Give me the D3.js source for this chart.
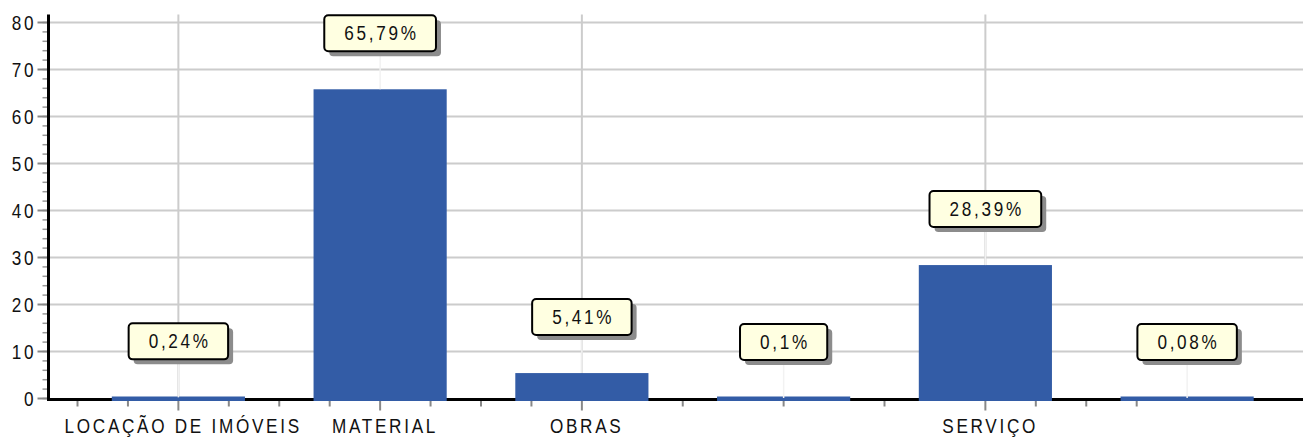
<!DOCTYPE html>
<html>
<head>
<meta charset="utf-8">
<script src="https://cdn.jsdelivr.net/npm/d3@7"></script>
<style>
  html, body { margin: 0; padding: 0; background: #ffffff; }
  svg { display: block; }
  text { font-family: "Liberation Sans", Arial, sans-serif; }
</style>
</head>
<body>
<svg id="chart" width="1303" height="438"></svg>
<script>
// ---- data ----
const categories = ["LOCAÇÃO DE IMÓVEIS", "MATERIAL", "OBRAS", "", "SERVIÇO", ""];
const values = [0.24, 65.79, 5.41, 0.1, 28.39, 0.08];
const valueLabels = ["0,24%", "65,79%", "5,41%", "0,1%", "28,39%", "0,08%"];
const yTicks = [0, 10, 20, 30, 40, 50, 60, 70, 80];
const yMinorTicks = d3.range(0, 81, 2);
const xQuarterTicks = [0, 1, 2, 3, 4, 5, 6, 7, 8, 9, 10, 12, 14, 16, 18, 19, 20, 21];
const verticalGridCats = [0, 2, 4];

// ---- layout ----
const W = 1303, H = 438;
const axisX = 48.5;
const svg = d3.select("#chart");

const x = d3.scaleBand()
  .domain(d3.range(categories.length))
  .range([77.5, 1288])
  .paddingInner(0.34)
  .paddingOuter(0.17);

const y = d3.scaleLinear().domain([0, 80]).range([398.5, 22.5]);
const step = x.step();
const center = i => x(i) + x.bandwidth() / 2;
const quarterX = q => x.range()[0] + q * step / 4;

// condensed text emulation
const fontSize = 19.5, sx = 0.88, lsScreen = 2.7;
const lsLocal = lsScreen / sx;

function addText(parent, str, px, py, anchor) {
  const t = parent.append("text")
    .attr("font-size", fontSize)
    .attr("letter-spacing", lsLocal)
    .attr("fill", "#111")
    .attr("dy", "0.36em")
    .text(str);
  const wLocal = t.node().getComputedTextLength() - lsLocal;
  const w = wLocal * sx;
  let left = px;
  if (anchor === "middle") left = px - w / 2;
  else if (anchor === "end") left = px - w;
  t.attr("transform", `translate(${left},${py}) scale(${sx},1)`);
  return w;
}

// horizontal gridlines
svg.append("g").selectAll("line").data(yTicks.filter(d => d > 0)).join("line")
  .attr("x1", axisX).attr("x2", W)
  .attr("y1", d => y(d)).attr("y2", d => y(d))
  .attr("stroke", "#cccccc").attr("stroke-width", 2);

// vertical gridlines
svg.append("g").selectAll("line").data(verticalGridCats).join("line")
  .attr("x1", d => center(d)).attr("x2", d => center(d))
  .attr("y1", y(80) - 8).attr("y2", y(0))
  .attr("stroke", "#cccccc").attr("stroke-width", 2);

// y minor ticks
svg.append("g").selectAll("line").data(yMinorTicks).join("line")
  .attr("x1", axisX - 6).attr("x2", axisX)
  .attr("y1", d => y(d)).attr("y2", d => y(d))
  .attr("stroke", "#999999").attr("stroke-width", 1.5);

// y major ticks
svg.append("g").selectAll("line").data(yTicks).join("line")
  .attr("x1", axisX - 11).attr("x2", axisX)
  .attr("y1", d => y(d)).attr("y2", d => y(d))
  .attr("stroke", "#888888").attr("stroke-width", 2);

// y labels
const yl = svg.append("g");
yTicks.forEach(d => addText(yl, String(d), 33.5, y(d), "end"));

// x ticks
svg.append("g").selectAll("line").data(xQuarterTicks).join("line")
  .attr("x1", d => quarterX(d)).attr("x2", d => quarterX(d))
  .attr("y1", y(0) + 2)
  .attr("y2", d => (d % 4 === 2 && categories[(d - 2) / 4]) ? y(0) + 12 : y(0) + 8)
  .attr("stroke", "#888888").attr("stroke-width", 2);

// axes lines
svg.append("line")
  .attr("x1", axisX).attr("x2", W).attr("y1", y(0) + 1).attr("y2", y(0) + 1)
  .attr("stroke", "#000").attr("stroke-width", 3);
svg.append("line")
  .attr("x1", axisX).attr("x2", axisX).attr("y1", y(80) - 8).attr("y2", y(0) + 2.5)
  .attr("stroke", "#000").attr("stroke-width", 3);

// bars
svg.append("g").selectAll("rect").data(values).join("rect")
  .attr("x", (d, i) => x(i))
  .attr("width", x.bandwidth())
  .attr("y", d => Math.min(y(d), y(0) - 2))
  .attr("height", d => y(0) + 2.5 - Math.min(y(d), y(0) - 2))
  .attr("fill", "#335ca6");

// connectors and value boxes
const boxH = 36, gap = 38;
const lbl = svg.append("g");
values.forEach((v, i) => {
  const cx = center(i);
  const by = y(v) - gap - boxH;
  lbl.append("line")
    .attr("x1", cx).attr("x2", cx).attr("y1", by + boxH).attr("y2", y(v))
    .attr("stroke", "#f2f2f2").attr("stroke-width", 1.5);
  const g = lbl.append("g");
  const shadow = g.append("rect");
  const box = g.append("rect");
  const tw = addText(g, valueLabels[i], cx, by + boxH / 2, "middle");
  const bw = tw + 40;
  shadow.attr("x", cx - bw / 2 + 5).attr("y", by + 5)
    .attr("width", bw).attr("height", boxH).attr("rx", 4)
    .attr("fill", "#8c8c8c");
  box.attr("x", cx - bw / 2).attr("y", by)
    .attr("width", bw).attr("height", boxH).attr("rx", 4)
    .attr("fill", "#ffffe1").attr("stroke", "#000").attr("stroke-width", 2);
});

// x labels
const xl = svg.append("g");
categories.forEach((c, i) => { if (c) addText(xl, c, center(i) + 3.5, 426, "middle"); });
</script>
</body>
</html>
